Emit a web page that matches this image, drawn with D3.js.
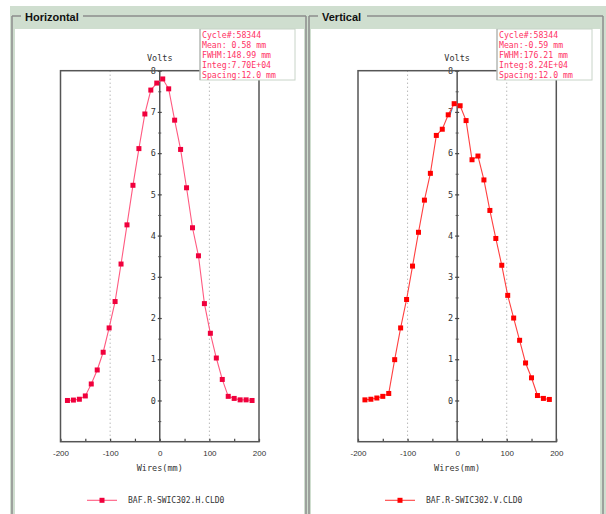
<!DOCTYPE html>
<html><head><meta charset="utf-8">
<script src="https://cdn.jsdelivr.net/npm/d3@7"></script>
<style>html,body{margin:0;padding:0;background:#fff;}svg{display:block;}</style>
</head><body>
<script>
// ---- data ----
const wires = [-186,-174,-162,-150,-138,-126,-114,-102,-90,-78,-66,-54,-42,-30,-18,-6,6,18,30,42,54,66,78,90,102,114,126,138,150,162,174,186];
const horizontalVolts = [0.00,0.01,0.03,0.11,0.40,0.74,1.17,1.76,2.40,3.31,4.26,5.22,6.11,6.95,7.53,7.70,7.80,7.56,6.80,6.09,5.16,4.19,3.51,2.35,1.63,1.03,0.51,0.10,0.05,0.015,0.015,0.00];
const verticalVolts = [0.015,0.03,0.06,0.10,0.17,0.99,1.76,2.45,3.26,4.08,4.86,5.51,6.43,6.58,6.93,7.20,7.15,6.79,5.84,5.93,5.35,4.61,3.93,3.28,2.55,2.00,1.46,0.91,0.55,0.12,0.05,0.025];
const xTicks = [-200,-150,-100,-50,0,50,100,150,200];
const xTickLabels = [-200,-100,0,100,200];
const yTicks = [0,1,2,3,4,5,6,7,8];
const yMinorTicks = [-0.5,0.5,1.5,2.5,3.5,4.5,5.5,6.5,7.5];
const gridLines = [-100,100];
const panelTitles = ["Horizontal","Vertical"];
const legendNames = ["BAF.R-SWIC302.H.CLD0","BAF.R-SWIC302.V.CLD0"];
const infoH = ["Cycle#:58344","Mean: 0.58 mm","FWHM:148.99 mm","Integ:7.70E+04","Spacing:12.0 mm"];
const infoV = ["Cycle#:58344","Mean:-0.59 mm","FWHM:176.21 mm","Integ:8.24E+04","Spacing:12.0 mm"];

const W = 606, H = 514;
const svg = d3.select("body").append("svg").attr("width", W).attr("height", H);
const mono = "'DejaVu Sans Mono', monospace";

// background frame
svg.append("rect").attr("x",10).attr("y",6).attr("width",W-10).attr("height",H-6).attr("fill","#cfdecf");

const panels = [
  {title: panelTitles[0], x0: 12, x1: 306, white: [15, 304], titleX: 25, titleW: 56, plot: [60.5, 259], box: [200, 295], data: horizontalVolts, info: infoH, legend: legendNames[0], lineColor: "#ff5a80", markColor: "#f0003c", infoColor: "#ff3366", legX: [87,117]},
  {title: panelTitles[1], x0: 309, x1: 603, white: [311, 600], titleX: 322, titleW: 43, plot: [358, 556.3], box: [497, 592], data: verticalVolts, info: infoV, legend: legendNames[1], lineColor: "#ff4040", markColor: "#ff0000", infoColor: "#ff3366", legX: [385,415]}
];

const yTop = 70.7, yBot = 441.7;
const y = d3.scaleLinear().domain([-1, 8]).range([yBot, yTop]);

panels.forEach(p => {
  // white inner area
  svg.append("rect").attr("x", p.white[0]).attr("y", 29).attr("width", p.white[1]-p.white[0]).attr("height", H-29).attr("fill", "#fff");
  // group border
  const g0 = svg.append("g").attr("stroke", "#8c8c8c").attr("stroke-width", 1.5).attr("fill","none");
  g0.append("line").attr("x1", p.x0).attr("x2", p.titleX-4).attr("y1",16).attr("y2",16);
  g0.append("line").attr("x1", p.titleX+p.titleW+2).attr("x2", p.x1).attr("y1",16).attr("y2",16);
  g0.append("line").attr("x1", p.x0).attr("x2", p.x0).attr("y1",16).attr("y2",H);
  g0.append("line").attr("x1", p.x1).attr("x2", p.x1).attr("y1",16).attr("y2",H);
  svg.append("text").attr("x", p.titleX).attr("y", 20.7).attr("font-family","'Liberation Sans', Arial, sans-serif")
    .attr("font-weight","bold").attr("font-size", 11).attr("fill","#111").text(p.title);

  const x = d3.scaleLinear().domain([-200, 200]).range(p.plot);
  const g = svg.append("g");

  // dotted grid
  g.selectAll(".grid").data(gridLines).enter().append("line")
    .attr("x1", d => x(d)).attr("x2", d => x(d)).attr("y1", yTop).attr("y2", yBot)
    .attr("stroke", "#999").attr("stroke-width", 1).attr("stroke-dasharray", "1,3");

  // x axis
  const xAxis = d3.axisBottom(x).tickValues(xTicks).tickSize(-3).tickPadding(9)
    .tickFormat(d => xTickLabels.includes(d) ? d : "");
  const gx = g.append("g").attr("transform", `translate(0,${yBot})`).call(xAxis);
  gx.select(".domain").remove();
  gx.selectAll("line").attr("stroke", "#444").attr("stroke-width", 1.2);
  gx.selectAll("text").attr("font-family","'Liberation Sans', Arial, sans-serif").attr("font-size", 8).attr("fill","#333");

  // y axis at x=0
  const x0 = x(0);
  g.append("line").attr("x1", x0).attr("x2", x0).attr("y1", yTop).attr("y2", yBot).attr("stroke", "#555").attr("stroke-width", 1.5);
  const yL = d3.axisLeft(y).tickValues(yTicks).tickSize(2).tickPadding(2).tickFormat(d3.format("d"));
  const gyl = g.append("g").attr("transform", `translate(${x0},0)`).call(yL);
  gyl.select(".domain").remove();
  gyl.selectAll("line").attr("stroke","#444").attr("stroke-width",1.2);
  gyl.selectAll("text").attr("font-family", mono).attr("font-size", 8.5).attr("fill","#333");
  const yR = d3.axisRight(y).tickValues(yTicks).tickSize(2).tickFormat("");
  const gyr = g.append("g").attr("transform", `translate(${x0},0)`).call(yR);
  gyr.select(".domain").remove();
  gyr.selectAll("line").attr("stroke","#444").attr("stroke-width",1.2);
  [d3.axisLeft, d3.axisRight].forEach(ax => {
    const gm = g.append("g").attr("transform", `translate(${x0},0)`).call(ax(y).tickValues(yMinorTicks).tickSize(1.5).tickFormat(""));
    gm.select(".domain").remove();
    gm.selectAll("line").attr("stroke","#555").attr("stroke-width",1);
  });

  // frame
  g.append("rect").attr("x", p.plot[0]).attr("y", yTop).attr("width", p.plot[1]-p.plot[0]).attr("height", yBot-yTop)
    .attr("fill","none").attr("stroke","#555").attr("stroke-width",1.5);

  // labels
  g.append("text").attr("x", x0).attr("y", 61).attr("text-anchor","middle").attr("font-family", mono).attr("font-size", 8.5).attr("fill","#333").text("Volts");
  g.append("text").attr("x", x0).attr("y", 471).attr("text-anchor","middle").attr("font-family", mono).attr("font-size", 8.5).attr("fill","#333").text("Wires(mm)");

  // data line + markers
  const pts = wires.map((w, i) => [w, p.data[i]]);
  g.append("path").datum(pts).attr("fill","none").attr("stroke", p.lineColor).attr("stroke-width", 1.1)
    .attr("d", d3.line().x(d => x(d[0])).y(d => y(d[1])));
  g.selectAll(".mk").data(pts).enter().append("rect")
    .attr("x", d => x(d[0]) - 2.5).attr("y", d => y(d[1]) - 2.5).attr("width", 5).attr("height", 5)
    .attr("fill", p.markColor);

  // info box
  svg.append("rect").attr("x", p.box[0]).attr("y", 29).attr("width", p.box[1]-p.box[0]).attr("height", 51)
    .attr("fill","#fff").attr("stroke","#c8d4c8").attr("stroke-width",1);
  svg.append("line").attr("x1", p.box[0]).attr("x2", p.box[0]).attr("y1", 29).attr("y2", 80).attr("stroke","#aaa").attr("stroke-width",1);
  svg.selectAll(null).data(p.info).enter().append("text")
    .attr("x", p.box[0] + 2).attr("y", (d, i) => 37.5 + i * 10.2)
    .attr("font-family", mono).attr("font-size", 8.2).attr("fill", p.infoColor).text(d => d);

  // legend
  const ly = 500.3;
  svg.append("line").attr("x1", p.legX[0]).attr("x2", p.legX[1]).attr("y1", ly).attr("y2", ly).attr("stroke", p.lineColor).attr("stroke-width", 1.1);
  svg.append("rect").attr("x", (p.legX[0]+p.legX[1])/2 - 2.5).attr("y", ly - 2.5).attr("width",5).attr("height",5).attr("fill", p.markColor);
  svg.append("text").attr("x", p.legX[1] + 11).attr("y", ly + 3).attr("font-family", mono).attr("font-size", 8).attr("fill","#333").text(p.legend);
});
</script>
</body></html>
